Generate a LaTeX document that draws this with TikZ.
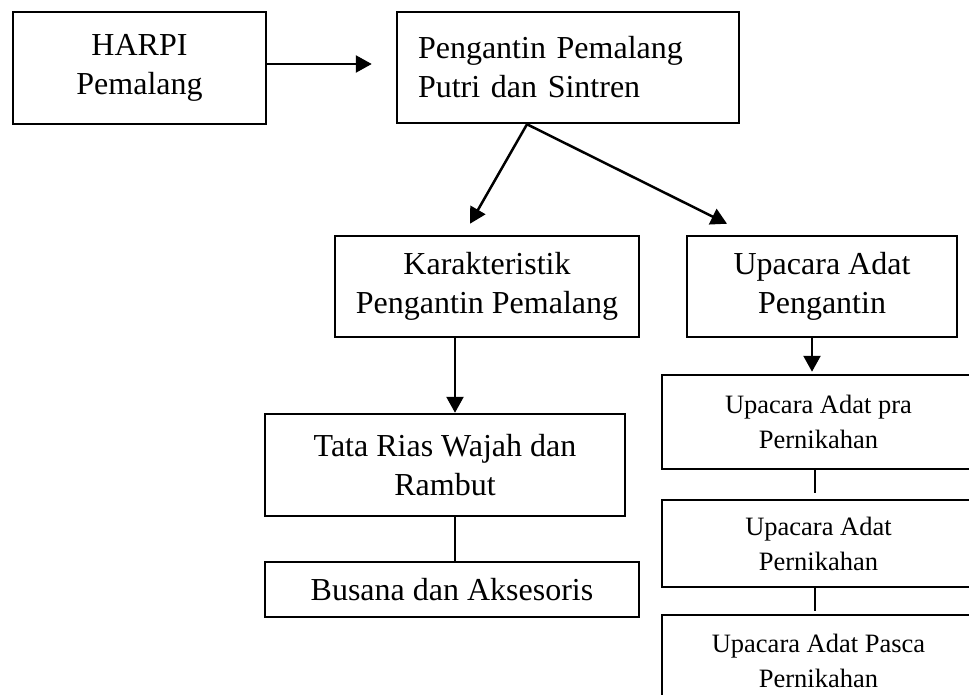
\documentclass[tikz,border=0pt]{standalone}
\usepackage{fontspec}
\setmainfont{Liberation Serif}
\usetikzlibrary{arrows.meta,calc}
\begin{document}
\begin{tikzpicture}[x=1pt,y=-1pt,
  box/.style={draw=black,line width=2.5pt,rectangle,inner sep=0pt,align=center,
    font=\fontsize{32}{39}\selectfont},
  smallbox/.style={draw=black,line width=2.5pt,rectangle,inner sep=0pt,align=center,
    font=\fontsize{26.5}{35}\selectfont},
  smalltext/.style={inner sep=0pt,align=center,font=\fontsize{26.5}{35}\selectfont},
  arr/.style={line width=2.5pt,-{Triangle[length=16pt,width=17pt]}},
  link/.style={line width=2pt}]
\clip (0,0) rectangle (969,695);
\fill[white] (0,0) rectangle (969,695);
\node[box,minimum width=253pt,minimum height=112pt] (harpi) at (139.5,68) {HARPI\\Pemalang};
\node[box,minimum width=342pt,minimum height=111pt,align=left,text width=300pt,inner xsep=21pt] (peng) at (568,67.5) {Pengantin Pemalang\\Putri dan Sintren};
\node[box,minimum width=304pt,minimum height=101pt] (kar) at (487,286.5) {Karakteristik\\Pengantin Pemalang};
\node[box,minimum width=270pt,minimum height=101pt] (upa) at (822,286.5) {Upacara Adat\\Pengantin};
\node[box,minimum width=360pt,minimum height=102pt] (tata) at (445,465) {Tata Rias Wajah dan\\Rambut};
\node[box,minimum width=374pt,minimum height=55pt] (bus) at (452,589.5) {Busana dan Aksesoris};
\node[smallbox,minimum width=313pt,minimum height=94pt] (pra) at (818.5,422) {Upacara Adat pra\\Pernikahan};
\node[smallbox,minimum width=313pt,minimum height=87pt] (nik) at (818.5,543.5) {Upacara Adat\\Pernikahan};
\node[smallbox,minimum width=313pt,minimum height=110pt] (pasca) at (818.5,670) {};
\node[smalltext] (pascatext) at (818.5,661) {Upacara Adat Pasca\\Pernikahan};
\draw[arr,shorten >=24pt] ($(harpi.east)+(0,-4)$) -- ($(peng.west)+(0,-3.5)$);
\draw[arr] ([xshift=-41pt]peng.south) -- ([xshift=-17pt,yshift=11pt]kar.north);
\draw[arr] ([xshift=-41pt]peng.south) -- ([xshift=-95pt,yshift=11pt]upa.north);
\draw[arr] ([xshift=-32pt]kar.south) -- ([xshift=10pt]tata.north);
\draw[link] ([xshift=10pt]tata.south) -- ([xshift=3pt]bus.north);
\draw[arr] ([xshift=-10pt]upa.south) -- ([xshift=-6.5pt,yshift=2pt]pra.north);
\draw[link,shorten >=6pt] ([xshift=-3.5pt]pra.south) -- ([xshift=-3.5pt]nik.north);
\draw[link,shorten >=3pt] ([xshift=-3.5pt]nik.south) -- ([xshift=-3.5pt]pasca.north);
\end{tikzpicture}
\end{document}
